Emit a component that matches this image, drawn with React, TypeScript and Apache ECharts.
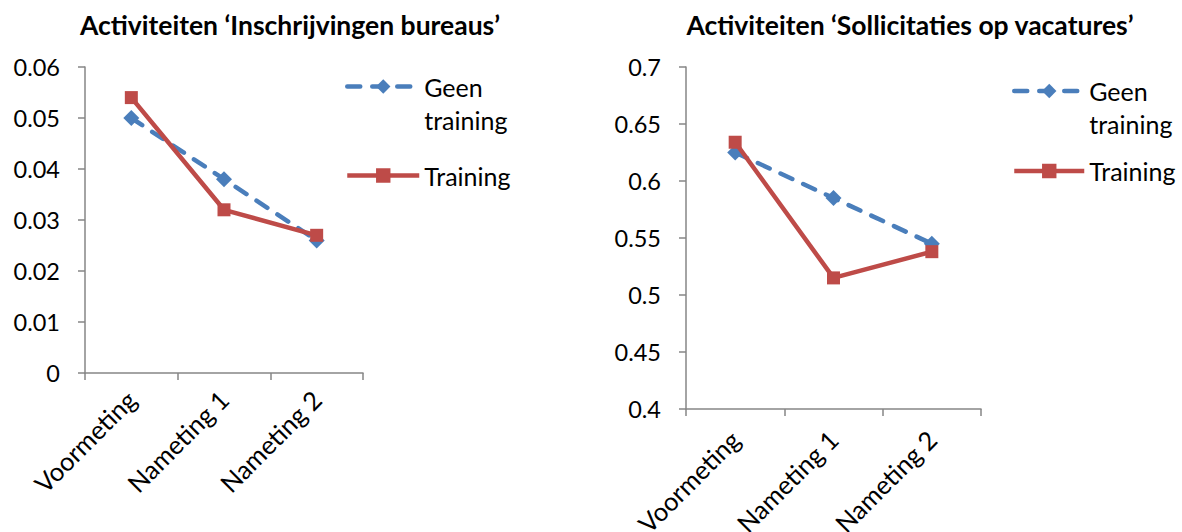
import React, { useEffect, useRef } from "react";
import * as echarts from "echarts";

const categories = ["Voormeting", "Nameting 1", "Nameting 2"];
const seriesNames = ["Geen\ntraining", "Training"];
const leftTitle = "Activiteiten \u2018Inschrijvingen bureaus\u2019";
const rightTitle = "Activiteiten \u2018Sollicitaties op vacatures\u2019";
const leftGeen = [0.05, 0.038, 0.026];
const leftTraining = [0.054, 0.032, 0.027];
const rightGeen = [0.625, 0.585, 0.545];
const rightTraining = [0.634, 0.515, 0.538];

const FONT = "Lato, 'Open Sans', sans-serif";
const BLUE = "#4A7EBB";
const RED = "#BE4B48";
const AXIS = "#868686";

export default function App() {
  const ref = useRef<HTMLDivElement>(null);
  useEffect(() => {
    if (!ref.current) return;
    const chart = echarts.init(ref.current, undefined, { renderer: "svg" });
    const xAxisBase = (gridIndex: number, margin: number) => ({
      type: "category",
      gridIndex,
      data: categories,
      boundaryGap: true,
      axisLine: { lineStyle: { color: AXIS, width: 1.5 } },
      axisTick: { show: true, alignWithLabel: false, length: 7, lineStyle: { color: AXIS, width: 1.5 } },
      axisLabel: { rotate: 45, color: "#000", fontSize: 25.5, fontFamily: FONT, margin },
      splitLine: { show: false },
    });
    const yAxisBase = (gridIndex: number, min: number, max: number, interval: number) => ({
      type: "value",
      gridIndex,
      min,
      max,
      interval,
      axisLine: { show: true, lineStyle: { color: AXIS, width: 1.5 } },
      axisTick: { show: true, length: 7, lineStyle: { color: AXIS, width: 1.5 } },
      axisLabel: { color: "#000", fontSize: 23.5, fontFamily: FONT, margin: 25 },
      splitLine: { show: false },
    });
    const geenSeries = (idx: number, data: number[]) => ({
      name: seriesNames[0],
      type: "line",
      xAxisIndex: idx,
      yAxisIndex: idx,
      data,
      symbol: "diamond",
      symbolSize: 16,
      itemStyle: { color: BLUE },
      lineStyle: { color: BLUE, width: 4.5, type: [13, 12], cap: "round" },
      z: 2,
    });
    const trainingSeries = (idx: number, data: number[]) => ({
      name: seriesNames[1],
      type: "line",
      xAxisIndex: idx,
      yAxisIndex: idx,
      data,
      symbol: "rect",
      symbolSize: 13,
      itemStyle: { color: RED },
      lineStyle: { color: RED, width: 4.5 },
      z: 3,
    });
    const legendBase = (left: number, top: number, gap: number, width: number) => ({
      orient: "vertical",
      left,
      top,
      padding: 0,
      itemWidth: width,
      itemHeight: 18,
      itemGap: gap,
      formatter: (name: string) => (name === seriesNames[0] ? "\n" + name : name),
      lineStyle: { width: 4.5 },
      textStyle: { fontSize: 25, fontFamily: FONT, color: "#000", lineHeight: 33 },
      data: [seriesNames[0], seriesNames[1]],
    });
    chart.setOption({
      animation: false,
      backgroundColor: "#fff",
      title: [
        {
          text: leftTitle,
          left: 285,
          top: 6,
          textAlign: "center",
          textStyle: { fontSize: 26.5, fontWeight: "bold", fontFamily: FONT, color: "#000" },
        },
        {
          text: rightTitle,
          left: 905,
          top: 6,
          textAlign: "center",
          textStyle: { fontSize: 26.5, fontWeight: "bold", fontFamily: FONT, color: "#000" },
        },
      ],
      legend: [legendBase(345, 37, 23, 72), legendBase(1012, 41.5, 14, 70)],
      grid: [
        { left: 85, top: 67, width: 278, height: 306, containLabel: false, outerBoundsMode: "none" },
        { left: 686, top: 67, width: 295, height: 342, containLabel: false, outerBoundsMode: "none" },
      ],
      xAxis: [xAxisBase(0, 22), xAxisBase(1, 26)],
      yAxis: [yAxisBase(0, 0, 0.06, 0.01), yAxisBase(1, 0.4, 0.7, 0.05)],
      series: [
        geenSeries(0, leftGeen),
        trainingSeries(0, leftTraining),
        geenSeries(1, rightGeen),
        trainingSeries(1, rightTraining),
      ],
    });
    return () => chart.dispose();
  }, []);
  return (
    <div
      ref={ref}
      style={{ position: "fixed", left: 0, top: 0, width: 1182, height: 532 }}
    />
  );
}
